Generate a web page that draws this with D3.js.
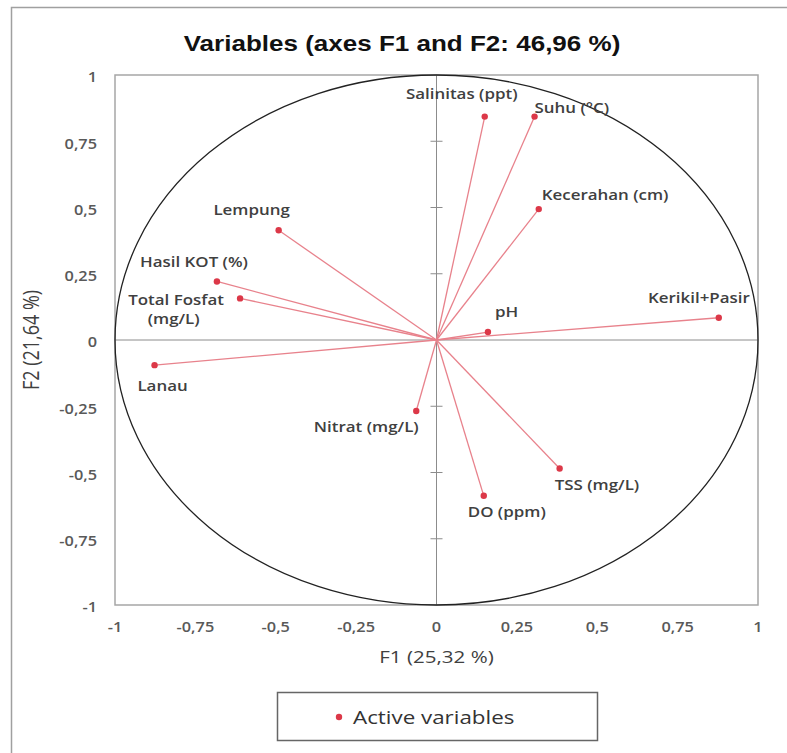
<!DOCTYPE html>
<html>
<head>
<meta charset="utf-8">
<script src="https://cdn.jsdelivr.net/npm/d3@7"></script>
<style>
  body { margin: 0; background: #fff; }
  svg { display: block; }
</style>
</head>
<body>
<script>
// PCA correlation circle, F1 x F2
var variables = ["Salinitas (ppt)", "Suhu (°C)", "Kecerahan (cm)", "pH", "Kerikil+Pasir",
  "Lempung", "Hasil KOT (%)", "Total Fosfat|(mg/L)", "Lanau", "Nitrat (mg/L)", "TSS (mg/L)", "DO (ppm)"];
var f1 = [0.15, 0.305, 0.318, 0.16, 0.878, -0.491, -0.683, -0.611, -0.877, -0.063, 0.383, 0.147];
var f2 = [0.843, 0.843, 0.494, 0.03, 0.084, 0.414, 0.221, 0.157, -0.095, -0.268, -0.485, -0.588];
var ticks = [-1, -0.75, -0.5, -0.25, 0, 0.25, 0.5, 0.75, 1];

// label placement relative to each point: [anchor, dx, dy]
var labelPos = [
  ["middle", -23, -23], ["start", 0, -9], ["start", 3, -14], ["start", 7, -20],
  ["end", 31, -20], ["middle", -27, -21], ["middle", -23, -20], ["middle", -64, 1],
  ["middle", 8, 20], ["middle", -50, 16], ["start", -5, 16], ["middle", 23, 16]
];

var width = 787;
var height = 753;
// the picture is stretched sideways, text too
var sx = 1.21;

var svg = d3.select("body").append("svg")
  .attr("width", width)
  .attr("height", height);

var x = d3.scaleLinear().domain([-1, 1]).range([115, 758]);
var y = d3.scaleLinear().domain([-1, 1]).range([605, 75]);
var fmt = function(d) { return String(d).replace(".", ","); };

function at(px, py) {
  return "translate(" + px + "," + py + ") scale(" + sx + ",1)";
}

// outer picture frame
svg.append("path")
  .attr("d", "M11.5," + height + "V7.5H" + width)
  .attr("fill", "none")
  .attr("stroke", "#a0a0a0")
  .attr("stroke-width", 1.5);

svg.append("text")
  .attr("transform", at(402, 43))
  .attr("text-anchor", "middle")
  .attr("dominant-baseline", "central")
  .style("font-family", "'Liberation Sans', Arial, sans-serif")
  .style("font-weight", "bold")
  .style("font-size", "21.5px")
  .style("fill", "#111")
  .text("Variables (axes F1 and F2: 46,96 %)");

// plot frame
svg.append("rect")
  .attr("x", x(-1))
  .attr("y", y(1))
  .attr("width", x(1) - x(-1))
  .attr("height", y(-1) - y(1))
  .attr("fill", "none")
  .attr("stroke", "#a6a6a6")
  .attr("stroke-width", 1.5);

// zero axes
svg.append("line")
  .attr("x1", x(-1)).attr("x2", x(1))
  .attr("y1", y(0)).attr("y2", y(0))
  .attr("stroke", "#8c8c8c").attr("stroke-width", 1);
svg.append("line")
  .attr("x1", x(0)).attr("x2", x(0))
  .attr("y1", y(1)).attr("y2", y(-1))
  .attr("stroke", "#8c8c8c").attr("stroke-width", 1);

// tick marks on vertical zero axis
svg.selectAll(".vtick")
  .data(ticks.filter(function(d) { return d !== 0 && Math.abs(d) !== 1; }))
  .enter().append("line")
  .attr("class", "vtick")
  .attr("x1", x(0) - 6).attr("x2", x(0) + 6)
  .attr("y1", function(d) { return y(d); })
  .attr("y2", function(d) { return y(d); })
  .attr("stroke", "#8c8c8c").attr("stroke-width", 1);

// correlation circle
svg.append("ellipse")
  .attr("cx", x(0))
  .attr("cy", y(0))
  .attr("rx", x(1) - x(0))
  .attr("ry", y(0) - y(1))
  .attr("fill", "none")
  .attr("stroke", "#222")
  .attr("stroke-width", 1.3);

// tick labels
var tickStyle = function(sel) {
  sel.style("font-family", "'Open Sans', sans-serif")
    .style("font-weight", "600")
    .style("font-size", "13.5px")
    .style("fill", "#595959");
};

svg.selectAll(".xt")
  .data(ticks)
  .enter().append("text")
  .attr("class", "xt")
  .attr("transform", function(d) { return at(x(d), 627); })
  .attr("text-anchor", "middle")
  .attr("dominant-baseline", "central")
  .text(fmt)
  .call(tickStyle);

svg.selectAll(".yt")
  .data(ticks)
  .enter().append("text")
  .attr("class", "yt")
  .attr("transform", function(d) { return at(97, y(d) + 2); })
  .attr("text-anchor", "end")
  .attr("dominant-baseline", "central")
  .text(fmt)
  .call(tickStyle);

// axis titles
svg.append("text")
  .attr("transform", at(x(0), 657))
  .attr("text-anchor", "middle")
  .attr("dominant-baseline", "central")
  .style("font-family", "'Open Sans', sans-serif")
  .style("font-size", "17px")
  .style("fill", "#404040")
  .text("F1 (25,32 %)");

svg.append("text")
  .attr("transform", at(31, y(0)) + " rotate(-90)")
  .attr("text-anchor", "middle")
  .attr("dominant-baseline", "central")
  .style("font-family", "'Open Sans', sans-serif")
  .style("font-size", "18px")
  .style("fill", "#404040")
  .text("F2 (21,64 %)");

// vectors
var idx = d3.range(variables.length);

svg.selectAll(".vec")
  .data(idx)
  .enter().append("line")
  .attr("class", "vec")
  .attr("x1", x(0)).attr("y1", y(0))
  .attr("x2", function(i) { return x(f1[i]); })
  .attr("y2", function(i) { return y(f2[i]); })
  .attr("stroke", "#e8828c")
  .attr("stroke-width", 1.3);

svg.selectAll(".pt")
  .data(idx)
  .enter().append("circle")
  .attr("class", "pt")
  .attr("cx", function(i) { return x(f1[i]); })
  .attr("cy", function(i) { return y(f2[i]); })
  .attr("r", 3.2)
  .attr("fill", "#dc3848");

var lab = svg.selectAll(".lab")
  .data(idx)
  .enter().append("text")
  .attr("class", "lab")
  .attr("transform", function(i) {
    return at(x(f1[i]) + labelPos[i][1], y(f2[i]) + labelPos[i][2]);
  })
  .attr("text-anchor", function(i) { return labelPos[i][0]; })
  .attr("dominant-baseline", "central")
  .style("font-family", "'Open Sans', sans-serif")
  .style("font-weight", "600")
  .style("font-size", "14px")
  .style("fill", "#404040");

lab.each(function(i) {
  var t = d3.select(this);
  variables[i].split("|").forEach(function(s, k) {
    t.append("tspan")
      .attr("x", k === 1 ? -2 : 0)
      .attr("y", k * 19)
      .text(s);
  });
});

// legend
var legend = svg.append("g");
legend.append("rect")
  .attr("x", 277.5)
  .attr("y", 692.5)
  .attr("width", 320)
  .attr("height", 48)
  .attr("fill", "#fff")
  .attr("stroke", "#666")
  .attr("stroke-width", 1.5);
legend.append("circle")
  .attr("cx", 339)
  .attr("cy", 717)
  .attr("r", 3.2)
  .attr("fill", "#dc3848");
legend.append("text")
  .attr("transform", at(353, 717))
  .attr("dominant-baseline", "central")
  .style("font-family", "'Open Sans', sans-serif")
  .style("font-size", "18.5px")
  .style("fill", "#333")
  .text("Active variables");
</script>
</body>
</html>
